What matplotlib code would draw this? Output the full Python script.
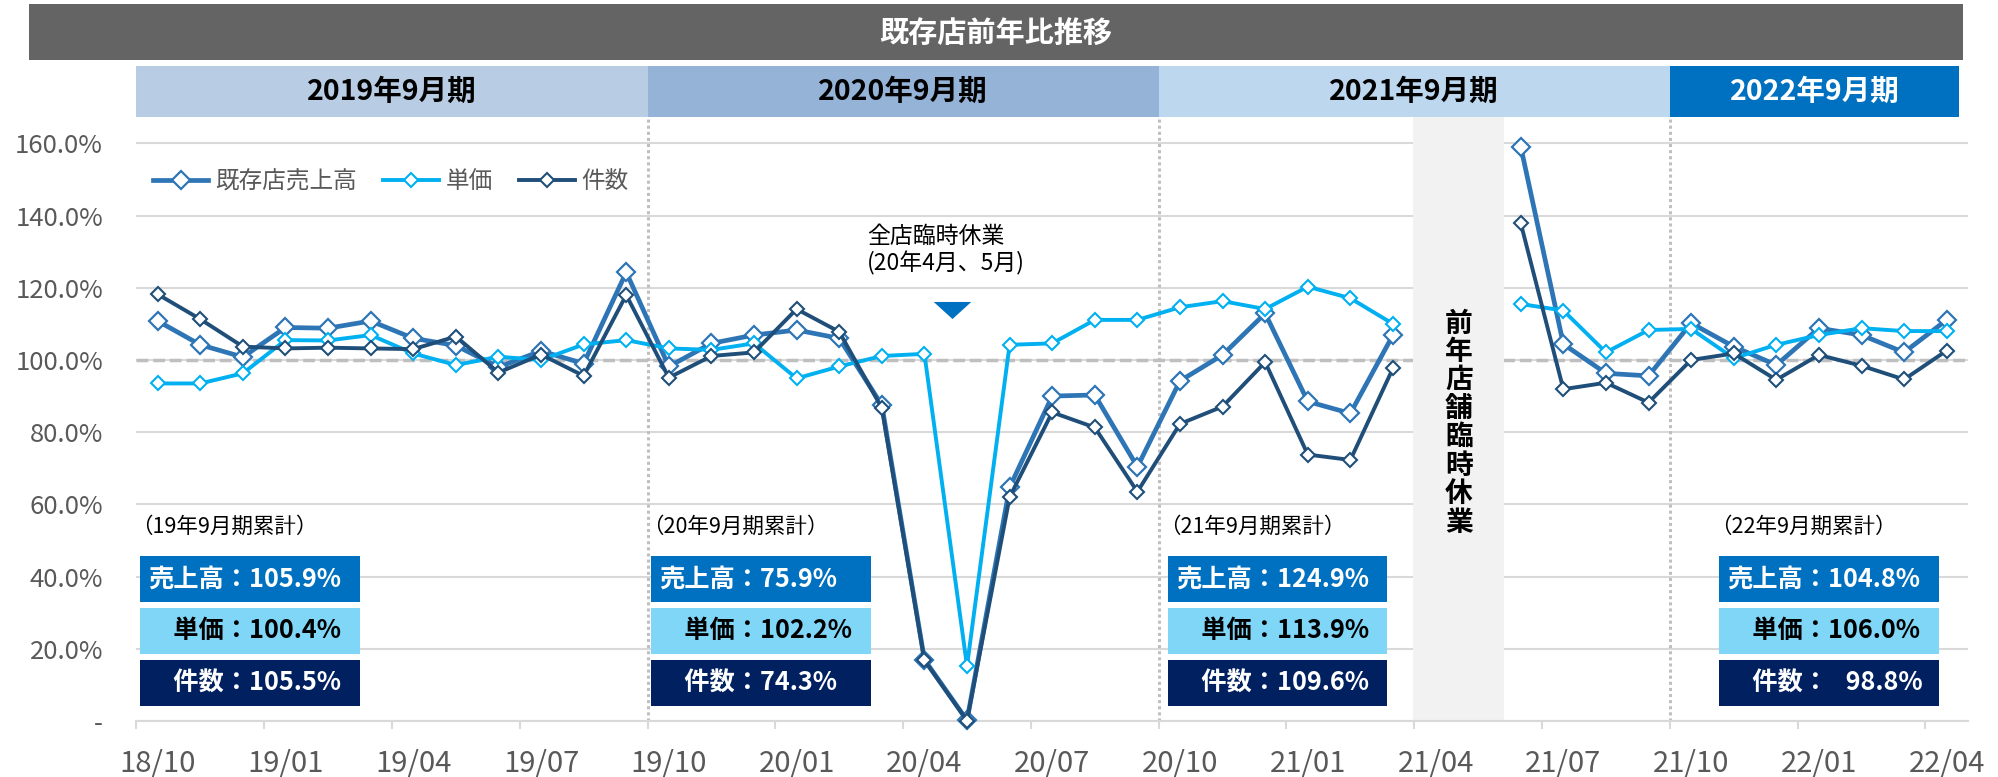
import numpy as np
import matplotlib
matplotlib.use("Agg")
import matplotlib.pyplot as plt
import matplotlib.transforms as mtrans
from matplotlib.patches import Rectangle

plt.rcParams['font.family'] = ['Noto Sans CJK JP', 'DejaVu Sans']

# ---- data ----
tick_labels = ["18/10", "19/01", "19/04", "19/07", "19/10", "20/01", "20/04", "20/07",
               "20/10", "21/01", "21/04", "21/07", "21/10", "22/01", "22/04"]

# monthly YoY %, 18/10 .. 22/04 (21/04, 21/05 not shown)
sales = [110.8, 104.2, 100.8, 109.0, 108.8, 110.8, 106.0, 104.0, 98.0, 102.5, 99.0, 124.3,
         98.2, 104.6, 106.9, 108.3, 106.0, 87.5, 17.0, 0.2, 64.7, 90.0, 90.3, 70.4,
         94.2, 101.4, 112.9, 88.5, 85.2, 106.9, np.nan, np.nan, 159.1, 104.4, 96.3, 95.6,
         110.2, 103.7, 98.6, 108.8, 106.9, 102.1, 111.1]
price = [93.5, 93.5, 96.3, 105.5, 105.4, 106.9, 101.8, 98.6, 100.9, 100.0, 104.3, 105.5,
         103.2, 102.8, 104.6, 94.9, 98.2, 101.1, 101.7, 15.2, 104.2, 104.6, 111.1, 111.1,
         114.6, 116.3, 114.1, 120.3, 117.1, 110.0, np.nan, np.nan, 115.5, 113.7, 102.1, 108.3,
         108.6, 100.5, 104.2, 106.9, 108.8, 108.0, 108.0]
count = [118.2, 111.3, 103.7, 103.2, 103.4, 103.2, 103.0, 106.5, 96.5, 101.5, 95.6, 118.0,
         95.1, 101.1, 102.1, 114.1, 107.8, 86.7, 16.8, 0.1, 62.0, 85.5, 81.3, 63.5,
         82.3, 87.1, 99.4, 73.8, 72.3, 97.7, np.nan, np.nan, 137.9, 91.9, 93.7, 88.2,
         100.0, 101.8, 94.5, 101.4, 98.4, 94.6, 102.6]

series_names = ["既存店売上高", "単価", "件数"]

periods = ["2019年9月期", "2020年9月期", "2021年9月期", "2022年9月期"]
cum_titles = ["（19年9月期累計）", "（20年9月期累計）", "（21年9月期累計）", "（22年9月期累計）"]
cum_sales = ["105.9%", "75.9%", "124.9%", "104.8%"]
cum_price = ["100.4%", "102.2%", "113.9%", "106.0%"]
cum_count = ["105.5%", "74.3%", "109.6%", "\u200798.8%"]

# ---- layout helpers (pixel -> figure fraction) ----
W, H = 1999, 777


def fx(px):
    return px / W


def fy(py):
    return 1 - py / H


fig = plt.figure(figsize=(W / 100, H / 100), dpi=100)
ax = fig.add_axes([fx(136.4), fy(721), (1968 - 136.4) / W, (721 - 117) / H])
x = np.arange(len(sales))
ax.set_xlim(-0.5, 42.5)
ax.set_ylim(0, 167.3)

# grid / axes styling
ax.set_axisbelow(True)
ax.set_yticks(np.arange(0, 161, 20))
ax.set_yticklabels(["-"] + [f"{v:.1f}%" for v in np.arange(20, 161, 20)])
ax.yaxis.grid(True, color="#D9D9D9", lw=1.5)
ax.tick_params(axis="y", length=0, pad=24, labelsize=18.5, labelcolor="#595959")
ax.set_xticks(x[::3])
ax.set_xticklabels(tick_labels)
ax.set_xticks(np.arange(-0.5, 42, 3), minor=True)
ax.tick_params(axis="x", which="major", length=0, pad=20, labelsize=21, labelcolor="#595959")
ax.tick_params(axis="x", which="minor", length=6, width=1.5, color="#D9D9D9")
for s in ["top", "right", "left"]:
    ax.spines[s].set_visible(False)
ax.spines["bottom"].set_color("#D9D9D9")
ax.spines["bottom"].set_linewidth(1.5)

# 100% reference and period separators
ax.axhline(100, color="#BFBFBF", lw=2.5, dashes=(3.4, 1.4), zorder=0.8)
for b in [11.5, 23.5, 35.5]:
    ax.axvline(b, color="#BFBFBF", lw=2.2, linestyle=(0, (1, 1)), zorder=2)

# previous-year closure band
ax.axvspan(29.47, 31.6, color="#F2F2F2", zorder=1, lw=0)
ax.text(30.55, 82.5, "\n".join("前年店舗臨時休業"), ha="center", va="center",
        fontsize=20, fontweight="bold", linespacing=1.02, zorder=2)

# lines
ax.plot(x, sales, color="#2E75B6", lw=3.4, marker="D", ms=8.8, mfc="white",
        mec="#2E75B6", mew=1.6, zorder=3, label=series_names[0], clip_on=False)
ax.plot(x, price, color="#00B0F0", lw=2.8, marker="D", ms=7, mfc="white",
        mec="#00B0F0", mew=1.5, zorder=4, label=series_names[1], clip_on=False)
ax.plot(x, count, color="#1F4E79", lw=2.8, marker="D", ms=7, mfc="white",
        mec="#1F4E79", mew=1.5, zorder=5, label=series_names[2], clip_on=False)

leg = ax.legend(loc="center left", bbox_to_anchor=(fx(153), fy(182)),
                bbox_transform=fig.transFigure, ncol=3, frameon=False,
                fontsize=17, handlelength=2.35, handletextpad=0.3,
                columnspacing=1.1, borderpad=0, borderaxespad=0, numpoints=1)
for t in leg.get_texts():
    t.set_color("#595959")

# closure annotation
ax.text(16.65, 130.5, "全店臨時休業\n(20年4月、5月)", ha="left", va="center",
        fontsize=16.5, linespacing=1.15)
ax.plot([18.65], [113.9], marker=[(-2.2, 1), (2.2, 1), (0, -1)], ms=27,
        color="#0070C0", mew=0, zorder=6)

# title bar
fig.patches.append(Rectangle((fx(29), fy(60)), (1963 - 29) / W, 56 / H,
                             transform=fig.transFigure, color="#646464", lw=0))
fig.text(fx(996), fy(33), "既存店前年比推移", ha="center", va="center",
         color="white", fontsize=21, fontweight="bold")

# period header boxes
tb = mtrans.blended_transform_factory(ax.transData, fig.transFigure)
edges = [-0.5, 11.5, 23.5, 35.5, 42.3]
pcolors = ["#B8CCE4", "#95B3D7", "#BDD7EE", "#0070C0"]
ptext = ["black", "black", "black", "white"]
for i, name in enumerate(periods):
    ax.add_patch(Rectangle((edges[i], fy(117)), edges[i + 1] - edges[i], (117 - 66) / H,
                           transform=tb, color=pcolors[i], lw=0, clip_on=False))
    ax.text((edges[i] + edges[i + 1]) / 2, fy(92), name, transform=tb, ha="center",
            va="center", fontsize=20.5, fontweight="bold", color=ptext[i])

# cumulative summary boxes
box_left = [-0.42, 11.58, 23.71, 36.65]
box_w = 5.16
rows = [("売上高：", cum_sales, "#0070C0", "white", 556),
        ("\u3000単価：", cum_price, "#7FD6F7", "black", 608),
        ("\u3000件数：", cum_count, "#002060", "white", 660)]
for i in range(4):
    ax.text(box_left[i] - 0.2, fy(527), cum_titles[i], transform=tb, ha="left",
            va="center", fontsize=15.5)
    for lab, vals, bg, fg, top in rows:
        ax.add_patch(Rectangle((box_left[i], fy(top + 46)), box_w, 46 / H, transform=tb,
                               color=bg, lw=0, zorder=7, clip_on=False))
        ax.text(box_left[i] + 0.19, fy(top + 23), lab + vals[i], transform=tb,
                ha="left", va="center", fontsize=18.2, fontweight="bold", color=fg,
                zorder=8)

fig.savefig("out.png", dpi=100)
